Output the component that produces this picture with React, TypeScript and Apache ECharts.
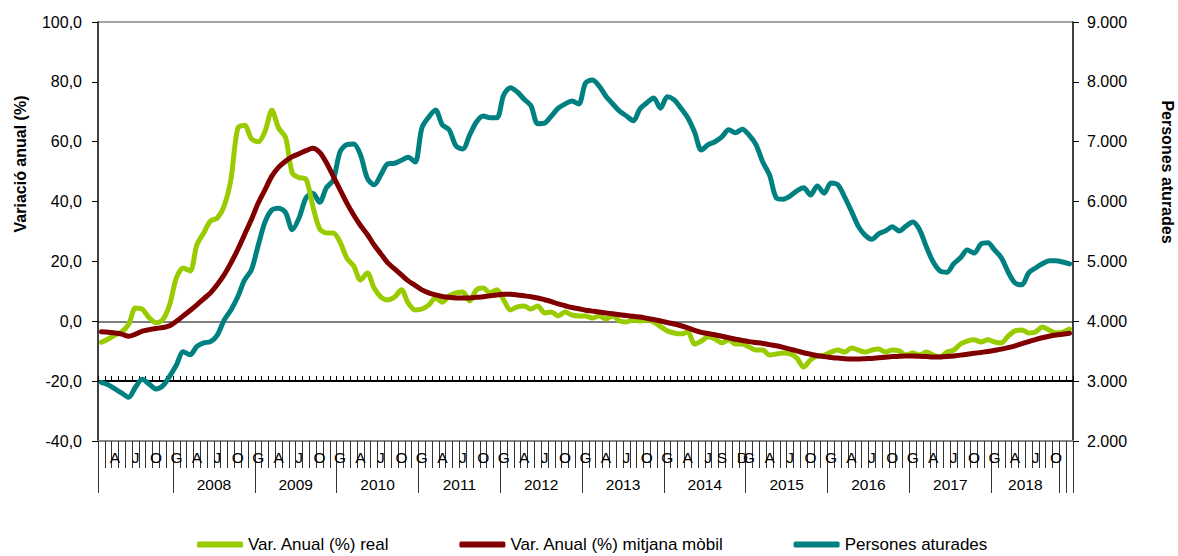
import React, { useEffect, useRef } from "react";
import * as echarts from "echarts";

// Categories: Feb 2007 … Dec 2018 (monthly)
const firstYear = 2007;
const lastYear = 2018;
const categories: string[] = [];
for (let y = firstYear; y <= lastYear; y++) {
  for (let m = y === firstYear ? 2 : 1; m <= 12; m++) {
    categories.push(`${y}-${String(m).padStart(2, "0")}`);
  }
}

// Month tick labels (Catalan initials)
const letters2007 = ["", "", "A", "", "", "J", "", "", "O", "", ""]; // Feb–Dec
const lettersStd = ["G", "", "", "A", "", "", "J", "", "", "O", "", ""];
const letters2014 = ["G", "", "", "A", "", "", "J", "", "S", "", "", "D"];
const monthLabels: string[] = [
  ...letters2007,
  ...[2008, 2009, 2010, 2011, 2012, 2013].flatMap(() => lettersStd),
  ...letters2014,
  ...[2015, 2016, 2017, 2018].flatMap(() => lettersStd),
];

// Year groups (category boundaries) and labels
const yearBoundaries = [0, 11, 23, 35, 47, 59, 71, 83, 95, 107, 119, 131, 141, 142, 143];
const yearLabels = ["", "2008", "2009", "2010", "2011", "2012", "2013", "2014", "2015", "2016", "2017", "2018", "", ""];

// Var. Anual (%) real
const realValues = [
  -7.0, -5.9, -4.6, -3.5, -1.0, 4.4, 4.0, 1.2, -0.5, 0.5, 5.5,
  14.5, 17.8, 16.8, 25.5, 29.5, 33.5, 34.5, 38.5, 47.5, 64.5, 65.5, 61.0,
  60.0, 63.5, 70.5, 64.5, 61.5, 49.5, 48.0, 47.5, 38.5, 31.0, 29.5, 29.5,
  26.5, 21.1, 18.5, 13.8, 16.1, 11.1, 8.1, 7.1, 8.1, 10.5, 6.1, 3.8,
  4.1, 5.4, 7.8, 6.4, 8.5, 9.5, 9.8, 6.8, 10.5, 11.1, 9.5, 10.5,
  7.1, 3.8, 4.8, 5.1, 4.1, 5.1, 2.8, 3.1, 1.8, 3.1, 2.1, 1.8,
  1.8, 1.1, 1.8, 0.8, 1.8, 0.1, -0.2, 0.4, 0.1, 0.4, -0.2, -1.8,
  -3.2, -3.9, -4.2, -3.6, -7.6, -6.6, -5.2, -5.9, -7.2, -6.2, -7.6, -7.6,
  -8.6, -9.6, -9.6, -11.3, -10.9, -10.6, -10.9, -12.3, -15.3, -12.9, -11.6, -11.3,
  -10.3, -9.6, -10.3, -8.9, -9.6, -10.3, -9.6, -9.3, -10.3, -9.6, -9.9, -11.3,
  -10.6, -11.3, -10.3, -11.3, -11.9, -10.3, -9.6, -7.6, -6.6, -6.2, -6.9, -6.2,
  -6.9, -7.2, -4.9, -3.2, -2.9, -3.9, -3.6, -1.9, -2.9, -3.9, -3.6, -2.6,
];

// Var. Anual (%) mitjana mòbil
const movingValues = [
  -3.5, -3.7, -3.9, -4.3, -5.0, -4.3, -3.3, -2.8, -2.4, -2.1, -1.5,
  0.0, 1.8, 3.6, 5.5, 7.5, 9.5, 12.3, 15.5, 19.5, 24.0, 29.0, 34.0,
  39.5, 44.0, 48.5, 51.5, 53.5, 55.0, 56.0, 57.0, 57.8, 56.5, 53.0, 48.5,
  44.0, 39.5, 35.5, 32.0, 29.0, 25.5, 22.5, 19.5, 17.5, 15.5, 13.5, 12.0,
  10.5, 9.5, 8.8, 8.3, 8.0, 7.8, 7.8, 7.8, 8.0, 8.2, 8.5, 8.8,
  9.0, 9.0, 8.8, 8.5, 8.2, 7.8, 7.2, 6.6, 5.8, 5.2, 4.6, 4.2,
  3.7, 3.4, 3.1, 2.8, 2.5, 2.2, 1.9, 1.7, 1.4, 1.0, 0.6, 0.1,
  -0.4, -0.9, -1.5, -2.2, -3.0, -3.7, -4.1, -4.5, -5.0, -5.5, -6.0, -6.4,
  -6.8, -7.1, -7.4, -7.8, -8.2, -8.7, -9.3, -9.9, -10.5, -11.0, -11.5, -11.8,
  -12.1, -12.3, -12.5, -12.6, -12.6, -12.5, -12.4, -12.2, -12.0, -11.8, -11.7, -11.6,
  -11.6, -11.7, -11.8, -11.9, -11.9, -11.8, -11.6, -11.3, -11.0, -10.7, -10.4, -10.1,
  -9.7, -9.3, -8.8, -8.2, -7.5, -6.8, -6.1, -5.5, -5.0, -4.6, -4.3, -4.0,
];

// Persones aturades
const unemployed = [
  2980, 2940, 2870, 2800, 2730, 2900, 3030, 2950, 2870, 2920, 3080,
  3270, 3490, 3440, 3580, 3640, 3660, 3770, 4020, 4190, 4410, 4690, 4860,
  5270, 5660, 5860, 5890, 5820, 5530, 5730, 6060, 6140, 5990, 6230, 6360,
  6830, 6950, 6960, 6780, 6390, 6280, 6450, 6630, 6640, 6690, 6740, 6660,
  7230, 7410, 7530, 7280, 7200, 6930, 6880, 7110, 7330, 7430, 7400, 7400,
  7780, 7900, 7830, 7710, 7600, 7300, 7310, 7430, 7560, 7630, 7680, 7630,
  7980, 8030, 7930, 7760, 7630, 7510, 7430, 7350, 7550, 7650, 7730, 7560,
  7750, 7700, 7560, 7400, 7160, 6860, 6950, 7000, 7080, 7200, 7150, 7210,
  7110, 6950, 6660, 6440, 6060, 6040, 6090, 6180, 6230, 6110, 6260, 6140,
  6310, 6280, 6080, 5840, 5590, 5440, 5370, 5460, 5510, 5580, 5510, 5590,
  5660, 5530, 5240, 4990, 4840, 4820, 4960, 5060, 5190, 5140, 5290, 5310,
  5190, 5060, 4820, 4640, 4610, 4810, 4890, 4960, 5010, 5010, 4990, 4960,
];

const seriesNames = ["Var. Anual (%) real", "Var. Anual (%) mitjana mòbil", "Persones aturades"];
const seriesColors = ["#99CC00", "#800000", "#008080"];

const FONT = '"Liberation Sans", Arial, sans-serif';

export default function App() {
  const ref = useRef<HTMLDivElement>(null);

  useEffect(() => {
    if (!ref.current) return;
    const chart = echarts.init(ref.current, null, { renderer: "svg" });

    const yearLabelPos: number[] = [];
    const yearLabelText: Record<number, string> = {};
    for (let i = 0; i < yearLabels.length; i++) {
      if (yearLabels[i]) {
        const mid = (yearBoundaries[i] + yearBoundaries[i + 1]) / 2;
        yearLabelPos.push(mid);
        yearLabelText[mid] = yearLabels[i];
      }
    }

    const n = categories.length;

    const lineSeries = (i: number, data: number[], yAxisIndex: number, z: number) => ({
      name: seriesNames[i],
      type: "line",
      xAxisIndex: 0,
      yAxisIndex,
      data,
      smooth: 0.3,
      showSymbol: false,
      symbol: "none",
      lineStyle: { color: seriesColors[i], width: 5, cap: "round", join: "round" },
      itemStyle: { color: seriesColors[i] },
      z,
    });

    chart.setOption({
      animation: false,
      textStyle: { fontFamily: FONT },
      grid: [
        { left: 98, right: 105, top: 22, bottom: 115, containLabel: false },
        { left: 98, right: 105, top: 22, bottom: 175, containLabel: false },
      ],
      legend: {
        data: seriesNames,
        left: 197,
        top: 536,
        padding: 0,
        icon: "roundRect",
        itemWidth: 46,
        itemHeight: 6,
        itemGap: 70,
        textStyle: { fontSize: 17, color: "#000", fontFamily: FONT },
      },
      xAxis: [
        {
          type: "category",
          gridIndex: 0,
          data: categories,
          boundaryGap: true,
          position: "bottom",
          axisLine: { show: true, onZero: false, lineStyle: { color: "#868686", width: 2 } },
          axisTick: { show: true, interval: 0, inside: false, length: 27, lineStyle: { color: "#333", width: 1 } },
          axisLabel: {
            interval: 0,
            margin: 8,
            fontSize: 15.5,
            color: "#000",
            fontFamily: FONT,
            formatter: (_v: string, idx: number) => monthLabels[idx] || "",
          },
          splitLine: { show: false },
        },
        {
          type: "value",
          gridIndex: 0,
          min: 0,
          max: n,
          position: "bottom",
          offset: 27,
          axisLine: { show: false, onZero: false },
          axisTick: {
            show: true,
            inside: false,
            length: 25,
            customValues: yearBoundaries,
            lineStyle: { color: "#333", width: 1 },
          },
          axisLabel: {
            show: true,
            margin: 8,
            fontSize: 15.5,
            color: "#000",
            fontFamily: FONT,
            customValues: yearLabelPos,
            formatter: (v: number) => yearLabelText[v] || "",
          },
          splitLine: { show: false },
        },
        {
          type: "category",
          gridIndex: 1,
          data: categories,
          boundaryGap: true,
          position: "bottom",
          axisLine: { show: true, onZero: false, lineStyle: { color: "#000", width: 2 } },
          axisTick: { show: true, interval: 0, inside: true, length: 5, lineStyle: { color: "#000", width: 1 } },
          axisLabel: { show: false },
          splitLine: { show: false },
        },
      ],
      yAxis: [
        {
          type: "value",
          gridIndex: 0,
          position: "left",
          min: -40,
          max: 100,
          interval: 20,
          axisLine: { show: true, lineStyle: { color: "#000", width: 1.5 } },
          axisTick: { show: true, inside: false, length: 6, lineStyle: { color: "#000" } },
          axisLabel: {
            margin: 16,
            fontSize: 16,
            color: "#000",
            fontFamily: FONT,
            formatter: (v: number) => v.toFixed(1).replace(".", ","),
          },
          splitLine: {
            show: true,
            lineStyle: {
              width: 2,
              color: [
                "#868686",
                "rgba(0,0,0,0)",
                "#7f7f7f",
                "rgba(0,0,0,0)",
                "rgba(0,0,0,0)",
                "rgba(0,0,0,0)",
                "rgba(0,0,0,0)",
                "#a6a6a6",
              ],
            },
          },
        },
        {
          type: "value",
          gridIndex: 0,
          position: "right",
          min: 2000,
          max: 9000,
          interval: 1000,
          axisLine: { show: true, lineStyle: { color: "#000", width: 1.5 } },
          axisTick: { show: true, inside: false, length: 6, lineStyle: { color: "#000" } },
          axisLabel: {
            margin: 14,
            fontSize: 16,
            color: "#000",
            fontFamily: FONT,
            formatter: (v: number) => (v / 1000).toFixed(3),
          },
          splitLine: { show: false },
        },
        {
          type: "value",
          gridIndex: 1,
          min: 0,
          max: 1,
          show: false,
        },
      ],
      graphic: [
        {
          type: "text",
          x: 20,
          y: 164,
          rotation: Math.PI / 2,
          style: {
            text: "Variació anual (%)",
            fontSize: 16,
            fontWeight: "bold",
            fontFamily: FONT,
            fill: "#000",
            align: "center",
            verticalAlign: "middle",
          },
        },
        {
          type: "text",
          x: 1167,
          y: 172,
          rotation: -Math.PI / 2,
          style: {
            text: "Persones aturades",
            fontSize: 16,
            fontWeight: "bold",
            fontFamily: FONT,
            fill: "#000",
            align: "center",
            verticalAlign: "middle",
          },
        },
      ],
      series: [
        lineSeries(0, realValues, 0, 3),
        lineSeries(1, movingValues, 0, 4),
        lineSeries(2, unemployed, 1, 2),
      ],
    });

    return () => {
      chart.dispose();
    };
  }, []);

  return (
    <div
      ref={ref}
      style={{ position: "fixed", left: 0, top: 0, width: 1178, height: 556, background: "#fff" }}
    />
  );
}
